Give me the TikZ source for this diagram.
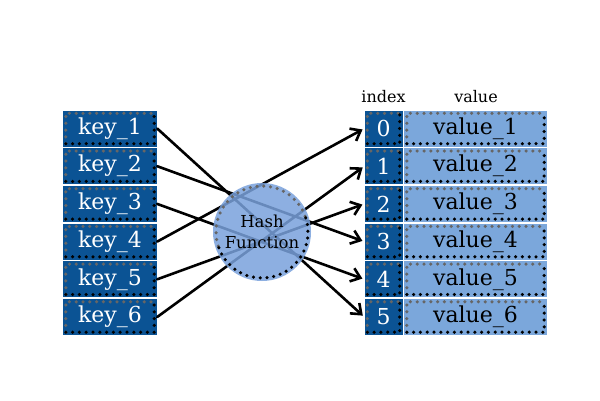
\documentclass[tikz,border=0pt]{standalone}
\usepackage{fontspec}
\setmainfont{DejaVu Serif}
\usepackage{tikz}
\usetikzlibrary{arrows.meta}
\definecolor{keyblue}{HTML}{0B5394}
\definecolor{valblue}{HTML}{7BA7DB}
\definecolor{hashblue}{HTML}{7AA2DC}
\tikzset{
  every picture/.style={line join=round, line cap=round, >={Straight Barb[length=9pt,width=14pt]}},
  cell/.style={inner sep=0pt, minimum height=36pt, font=\fontsize{22}{24}\selectfont},
  keycell/.style={cell, fill=keyblue, text=white, minimum width=94pt},
  idxcell/.style={cell, fill=keyblue, text=white, minimum width=38pt},
  valcell/.style={cell, fill=valblue, minimum width=143pt},
  dots/.style={line width=3.5pt, dash pattern=on 0pt off 6.8pt, line cap=round},
  hashline/.style={line width=2.6pt, ->, shorten >=2pt},
  head/.style={font=\fontsize{16}{18}\selectfont},
}
\newcommand{\celldots}[1]{%
  \draw[dots,black!60] ([shift={(3,3)}]#1.south west) -- ([shift={(3,-3)}]#1.north west) -- ([shift={(-3,-3)}]#1.north east);
  \draw[dots,black] ([shift={(3,3)}]#1.south west) -- ([shift={(-3,3)}]#1.south east) -- ([shift={(-3,-3)}]#1.north east);}

\begin{document}
\begin{tikzpicture}[x=1pt,y=1pt]
\useasboundingbox[fill=white] (0,0) rectangle (600,400);
% keys, indices and values
\foreach \i/\y in {1/271.5,2/233.8,3/196.1,4/158.4,5/120.7,6/83.0}{
  \pgfmathtruncatemacro{\j}{\i-1}
  \node[keycell] (key\i) at (110,\y) {key\_\i};
  \node[idxcell] (idx\j) at (383.5,\y) {\j};
  \node[valcell] (val\i) at (475.5,\y) {value\_\i};
  \celldots{key\i} \celldots{idx\j} \celldots{val\i}
}
\node[head] (idxhead) at (383.5,303) {index};
\node[head] (valhead) at (476,303) {value};
% mapping through the hash function
\draw[hashline] (key1.east) -- (idx5.west);
\draw[hashline] (key2.east) -- (idx3.west);
\draw[hashline] (key3.east) -- (idx4.west);
\draw[hashline] (key4.east) -- (idx0.west);
\draw[hashline] (key5.east) -- (idx2.west);
\draw[hashline] (key6.east) -- (idx1.west);
\node[circle, minimum size=98pt, fill=hashblue, fill opacity=0.85, text opacity=1, align=center,
  font=\fontsize{16.5}{21}\selectfont] (hash) at (262,168) {Hash\\Function};
\draw[dots,black!60] (hash.center) ++(20:46) arc[start angle=20, end angle=200, radius=46];
\draw[dots,black] (hash.center) ++(200:46) arc[start angle=200, end angle=380, radius=46];
\end{tikzpicture}
\end{document}
